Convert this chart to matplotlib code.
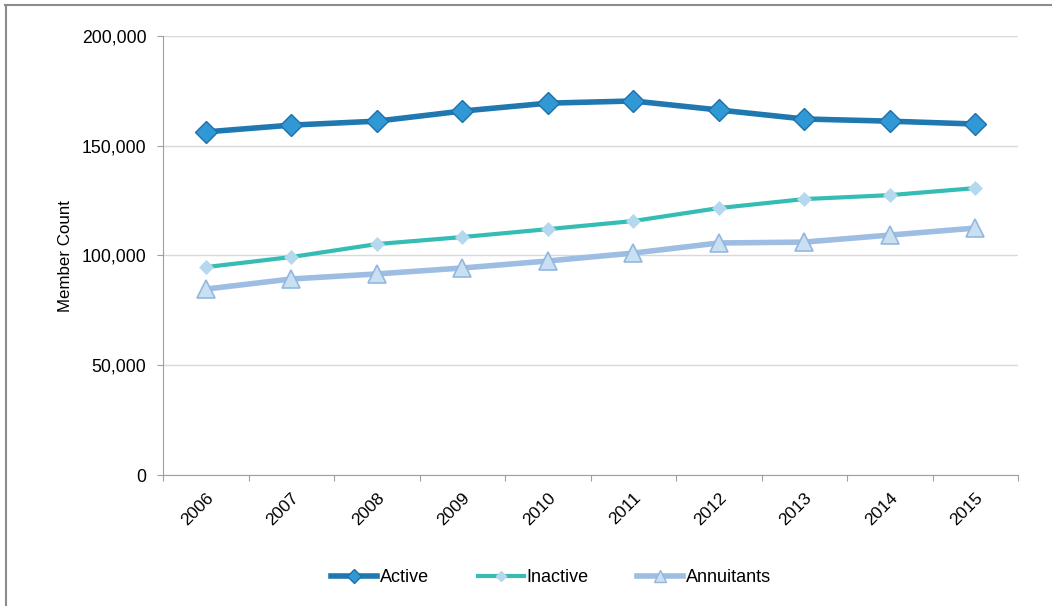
import numpy as np
import matplotlib
matplotlib.use("Agg")
from matplotlib import pyplot as plt
from matplotlib.ticker import FuncFormatter
from matplotlib.lines import Line2D

years = ["2006", "2007", "2008", "2009", "2010", "2011", "2012", "2013", "2014", "2015"]
active = [156300, 159400, 161200, 165800, 169400, 170400, 166300, 162200, 161200, 159900]
inactive = [94700, 99300, 105200, 108400, 112000, 115700, 121600, 125700, 127500, 130700]
annuitants = [84700, 89300, 91600, 94300, 97500, 101100, 105700, 106100, 109300, 112500]

plt.rcParams['font.family'] = ['Liberation Sans', 'DejaVu Sans']

fig = plt.figure(figsize=(10.52, 6.06), dpi=100)
ax = fig.add_axes([163 / 1052, 1 - 475 / 606, 855 / 1052, 439 / 606])

x = np.arange(len(years))

ax.plot(x, active, color="#1f78b0", linewidth=4, marker="D", markersize=11,
        markerfacecolor="#3198d6", markeredgecolor="#1f6fa8", markeredgewidth=1,
        label="Active", zorder=4)
ax.plot(x, inactive, color="#35bdb5", linewidth=3, marker="D", markersize=7,
        markerfacecolor="#b4d8ee", markeredgecolor="#b4d8ee", markeredgewidth=0.5,
        label="Inactive", zorder=3)
ax.plot(x, annuitants, color="#9dbde2", linewidth=4, marker="^", markersize=13,
        markerfacecolor="#c8e0f2", markeredgecolor="#93b7df", markeredgewidth=1.2,
        label="Annuitants", zorder=2)

ax.set_xlim(-0.5, len(years) - 0.5)
ax.set_ylim(0, 200000)
ax.set_yticks(range(0, 200001, 50000))
ax.yaxis.set_major_formatter(FuncFormatter(lambda v, p: "{:,.0f}".format(v)))
ax.yaxis.grid(True, color="#d9d9d9", linewidth=1)
ax.set_axisbelow(True)

# category ticks sit between the years
ax.set_xticks(np.arange(-0.5, len(years), 1.0))
ax.set_xticklabels([])
ax.set_xticks(x, minor=True)
ax.set_xticklabels(years, minor=True, rotation=45, ha="right", va="top",
                   rotation_mode="anchor", fontsize=12.5)
ax.tick_params(axis="x", which="minor", length=0, pad=11)
ax.tick_params(axis="x", which="major", length=4.5, color="#a0a0a0", direction="out")
ax.tick_params(axis="y", length=4, color="#a0a0a0", labelsize=12.7, pad=8)

for s in ["top", "right"]:
    ax.spines[s].set_visible(False)
for s in ["left", "bottom"]:
    ax.spines[s].set_color("#a0a0a0")

fig.text(65 / 1052, 1 - 256 / 606, "Member Count", rotation=90,
         ha="center", va="center", fontsize=12.2)

handles = [
    Line2D([], [], color="#1f78b0", linewidth=4, marker="D", markersize=7,
           markerfacecolor="#3198d6", markeredgecolor="#1f6fa8"),
    Line2D([], [], color="#35bdb5", linewidth=3, marker="D", markersize=5,
           markerfacecolor="#b4d8ee", markeredgecolor="#b4d8ee"),
    Line2D([], [], color="#9dbde2", linewidth=4, marker="^", markersize=8,
           markerfacecolor="#c8e0f2", markeredgecolor="#93b7df"),
]
fig.legend(handles, ["Active", "Inactive", "Annuitants"], loc="center",
           bbox_to_anchor=(551 / 1052, 1 - 578 / 606), ncol=3, frameon=False,
           fontsize=13, handlelength=2.55, handletextpad=0.15, columnspacing=2.7)

# outer chart border (only top and left visible)
fig.add_artist(Line2D([5 / 1052, 1], [1 - 4.5 / 606, 1 - 4.5 / 606],
                      transform=fig.transFigure, color="#8c8c8c", linewidth=1.5))
fig.add_artist(Line2D([5.5 / 1052, 5.5 / 1052], [0, 1 - 4.5 / 606],
                      transform=fig.transFigure, color="#8c8c8c", linewidth=1.5))

fig.savefig("out.png", dpi=100)
